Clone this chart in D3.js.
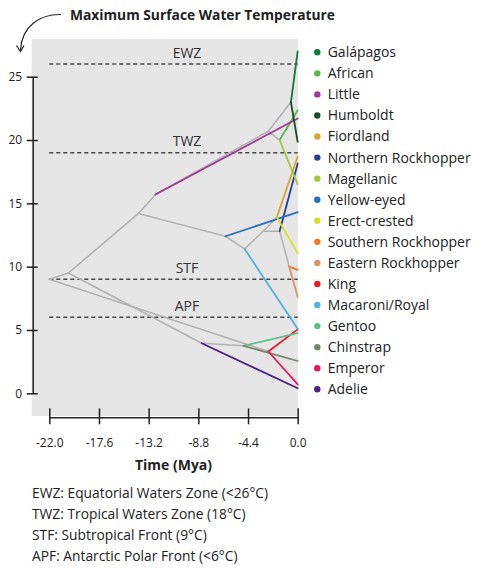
<!DOCTYPE html>
<html>
<head>
<meta charset="utf-8">
<script src="https://cdn.jsdelivr.net/npm/d3@7"></script>
<style>
  html, body { margin: 0; padding: 0; background: #fff; }
  svg { display: block; font-family: "Open Sans", sans-serif; }
</style>
</head>
<body>
<svg id="chart" width="480" height="569"></svg>
<script>
// ---------- DATA ----------
const nodeIds     = ["root","n1","n2","n3","n4","n5","n6","n7","n8","n9","n10","n11","n12","n13","n14","n15"];
const nodeTime    = [-22, -20.3, -14.1, -12.6, -2.6, -0.6, -1.6, -6.4, -4.7, -3.05, -1.85, -1.6, -0.75, -2.6, -8.5, -4.8];
const nodeTemp    = [9, 9.5, 14.2, 15.7, 20.7, 23.0, 20.0, 12.4, 11.4, 12.8, 13.9, 12.8, 10.0, 3.3, 3.95, 3.75];
const nodeParent  = [null,"root","n1","n2","n3","n4","n4","n2","n7","n8","n9","n9","n11","root","n1","n14"];

const species       = ["Galápagos","African","Little","Humboldt","Fiordland","Northern Rockhopper","Magellanic","Yellow-eyed","Erect-crested","Southern Rockhopper","Eastern Rockhopper","King","Macaroni/Royal","Gentoo","Chinstrap","Emperor","Adelie"];
const speciesParent = ["n5","n6","n3","n5","n10","n11","n6","n7","n10","n12","n12","n13","n8","n15","n15","n13","n14"];
const speciesTemp   = [27.0, 22.35, 21.7, 19.85, 18.7, 18.15, 16.5, 14.3, 11.05, 9.75, 7.6, 5.05, 5.1, 4.75, 2.55, 0.7, 0.4];
const speciesColor  = ["#0f7a3c","#5ab946","#a2399b","#1b4a2a","#d6a72b","#2b3d9b","#a2c93a","#2b6dbf","#d7df23","#f07b24","#d99468","#ec1c24","#4db3e6","#5fbf8c","#73886f","#e7185a","#4a2085"];

const zoneLabels = ["EWZ","TWZ","STF","APF"];
const zoneTemps  = [26, 19, 9, 6];

const xTicks = [-22.0, -17.6, -13.2, -8.8, -4.4, 0.0];
const yTicks = [0, 5, 10, 15, 20, 25];

const notes = ["EWZ: Equatorial Waters Zone (<26°C)","TWZ: Tropical Waters Zone (18°C)","STF: Subtropical Front (9°C)","APF: Antarctic Polar Front (<6°C)"];

// ---------- LAYOUT ----------
const svg = d3.select("#chart");
const x = d3.scaleLinear().domain([-22, 0]).range([49.3, 297.7]);
const y = d3.scaleLinear().domain([0, 25]).range([393.3, 76.7]);
const hyphen = f => d => f(d).replace("\u2212", "-");

// background
svg.append("rect")
  .attr("x", 31.7).attr("y", 39)
  .attr("width", 298 - 31.7).attr("height", 416 - 39)
  .attr("fill", "#e6e6e6");

// zone dashed lines
const zg = svg.append("g");
zoneTemps.forEach((t, i) => {
  zg.append("line")
    .attr("x1", x(-22)).attr("x2", x(0))
    .attr("y1", y(t)).attr("y2", y(t))
    .attr("stroke", "#444").attr("stroke-width", 1.4)
    .attr("stroke-dasharray", "4,3");
  zg.append("text")
    .attr("x", 187).attr("y", y(t) - 6.5)
    .attr("text-anchor", "middle")
    .attr("font-size", 14).attr("fill", "#333")
    .text(zoneLabels[i]);
});

// tree
const nodeMap = {};
nodeIds.forEach((id, i) => nodeMap[id] = {t: nodeTime[i], v: nodeTemp[i]});

const branches = svg.append("g");
nodeIds.forEach((id, i) => {
  const p = nodeParent[i];
  if (!p) return;
  branches.append("line")
    .attr("x1", x(nodeMap[p].t)).attr("y1", y(nodeMap[p].v))
    .attr("x2", x(nodeTime[i])).attr("y2", y(nodeTemp[i]))
    .attr("stroke", "#b3b3b3").attr("stroke-width", 1.6)
    .attr("stroke-linecap", "round");
});

const leaves = svg.append("g");
species.forEach((s, i) => {
  const p = nodeMap[speciesParent[i]];
  leaves.append("line")
    .attr("x1", x(p.t)).attr("y1", y(p.v))
    .attr("x2", x(0)).attr("y2", y(speciesTemp[i]))
    .attr("stroke", speciesColor[i]).attr("stroke-width", 1.8)
    .attr("stroke-linecap", "round");
});

// y axis
const yAxis = svg.append("g")
  .attr("transform", "translate(32.7,0)")
  .call(d3.axisLeft(y).tickValues(yTicks).tickSizeOuter(0).tickSizeInner(6).tickPadding(5).tickFormat(hyphen(d3.format("d"))));
yAxis.select(".domain").attr("stroke", "#222").attr("stroke-width", 1.5);
yAxis.selectAll(".tick line").attr("x1", 5).attr("x2", -6).attr("stroke", "#222").attr("stroke-width", 1.5);
yAxis.selectAll(".tick text").attr("font-size", 12).attr("fill", "#222").attr("font-family", "Open Sans").attr("x", -10.5);

// x axis
const xAxis = svg.append("g")
  .attr("transform", "translate(0,417.3)")
  .call(d3.axisBottom(x).tickValues(xTicks).tickSizeOuter(0).tickSizeInner(7).tickFormat(hyphen(d3.format(".1f"))));
xAxis.select(".domain").attr("stroke", "#222").attr("stroke-width", 1.5);
xAxis.selectAll(".tick line").attr("y1", -9).attr("y2", 7).attr("stroke", "#222").attr("stroke-width", 1.5);
xAxis.selectAll(".tick text").attr("font-size", 12).attr("fill", "#222").attr("font-family", "Open Sans").attr("y", 21.5);

svg.append("text")
  .attr("x", (x(-22) + x(0)) / 2).attr("y", 470)
  .attr("text-anchor", "middle").attr("font-size", 14).attr("font-weight", "bold").attr("fill", "#222")
  .text("Time (Mya)");

// title + arrow
svg.append("text")
  .attr("x", 70).attr("y", 19.5)
  .attr("font-size", 13.8).attr("font-weight", "bold").attr("fill", "#222")
  .text("Maximum Surface Water Temperature");
svg.append("path")
  .attr("d", "M61,14.5 C40,14 22,26 20.5,50")
  .attr("fill", "none").attr("stroke", "#222").attr("stroke-width", 1.2);
svg.append("path")
  .attr("d", "M16.5,45.5 L20.5,51.5 L24,45.5")
  .attr("fill", "none").attr("stroke", "#222").attr("stroke-width", 1.2);

// legend
const lg = svg.append("g");
species.forEach((s, i) => {
  const yy = 52.3 + i * 21.06;
  lg.append("circle").attr("cx", 317.3).attr("cy", yy).attr("r", 3.2).attr("fill", speciesColor[i]);
  lg.append("text").attr("x", 327.7).attr("y", yy).attr("dy", "0.35em")
    .attr("font-size", 14).attr("fill", "#222").text(s);
});

// notes
notes.forEach((n, i) => {
  svg.append("text")
    .attr("x", 32).attr("y", 493.3 + i * 21.1).attr("dy", "0.35em")
    .attr("font-size", 13.8).attr("fill", "#222").text(n);
});
</script>
</body>
</html>
